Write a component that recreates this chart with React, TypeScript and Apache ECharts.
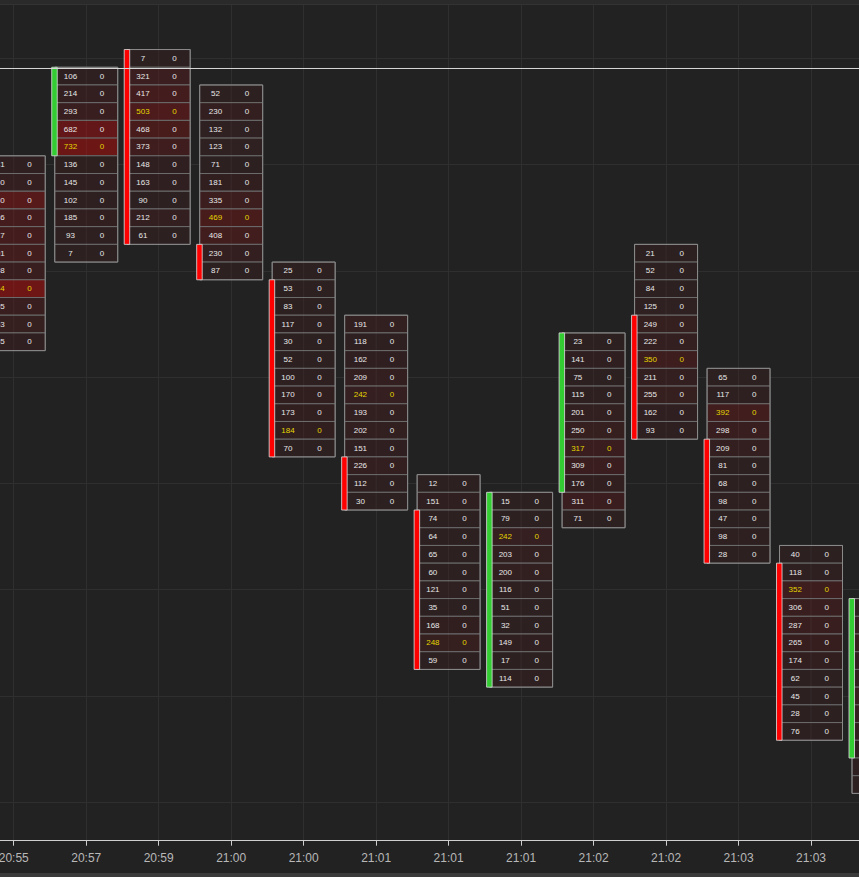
import React, { useEffect, useRef } from 'react';
import * as echarts from 'echarts';

// x axis tick labels (one per footprint column)
const TIME_LABELS = ['20:55', '20:57', '20:59', '21:00', '21:00', '21:01', '21:01', '21:01', '21:02', '21:02', '21:03', '21:03'];

// top price level (row) of each footprint column, one level per row
const COLUMN_TOP_LEVELS = [54, 59, 60, 58, 48, 45, 36, 35, 44, 49, 42, 32, 29];

// bid volume per row (top to bottom) of every column
const BID_0 = [141, 230, 580, 436, 417, 401, 298, 744, 305, 253, 165];
const BID_1 = [106, 214, 293, 682, 732, 136, 145, 102, 185, 93, 7];
const BID_2 = [7, 321, 417, 503, 468, 373, 148, 163, 90, 212, 61];
const BID_3 = [52, 230, 132, 123, 71, 181, 335, 469, 408, 230, 87];
const BID_4 = [25, 53, 83, 117, 30, 52, 100, 170, 173, 184, 70];
const BID_5 = [191, 118, 162, 209, 242, 193, 202, 151, 226, 112, 30];
const BID_6 = [12, 151, 74, 64, 65, 60, 121, 35, 168, 248, 59];
const BID_7 = [15, 79, 242, 203, 200, 116, 51, 32, 149, 17, 114];
const BID_8 = [23, 141, 75, 115, 201, 250, 317, 309, 176, 311, 71];
const BID_9 = [21, 52, 84, 125, 249, 222, 350, 211, 255, 162, 93];
const BID_10 = [65, 117, 392, 298, 209, 81, 68, 98, 47, 98, 28];
const BID_11 = [40, 118, 352, 306, 287, 265, 174, 62, 45, 28, 76];
const BID_12 = [130, 245, 262, 230, 198, 276, 240, 186, 154, 120, 85];
const BID_VOLUMES = [BID_0, BID_1, BID_2, BID_3, BID_4, BID_5, BID_6, BID_7, BID_8, BID_9, BID_10, BID_11, BID_12];

// ask volume per row
const ASK_0 = [0, 0, 0, 0, 0, 0, 0, 0, 0, 0, 0];
const ASK_1 = [0, 0, 0, 0, 0, 0, 0, 0, 0, 0, 0];
const ASK_2 = [0, 0, 0, 0, 0, 0, 0, 0, 0, 0, 0];
const ASK_3 = [0, 0, 0, 0, 0, 0, 0, 0, 0, 0, 0];
const ASK_4 = [0, 0, 0, 0, 0, 0, 0, 0, 0, 0, 0];
const ASK_5 = [0, 0, 0, 0, 0, 0, 0, 0, 0, 0, 0];
const ASK_6 = [0, 0, 0, 0, 0, 0, 0, 0, 0, 0, 0];
const ASK_7 = [0, 0, 0, 0, 0, 0, 0, 0, 0, 0, 0];
const ASK_8 = [0, 0, 0, 0, 0, 0, 0, 0, 0, 0, 0];
const ASK_9 = [0, 0, 0, 0, 0, 0, 0, 0, 0, 0, 0];
const ASK_10 = [0, 0, 0, 0, 0, 0, 0, 0, 0, 0, 0];
const ASK_11 = [0, 0, 0, 0, 0, 0, 0, 0, 0, 0, 0];
const ASK_12 = [0, 0, 0, 0, 0, 0, 0, 0, 0, 0, 0];
const ASK_VOLUMES = [ASK_0, ASK_1, ASK_2, ASK_3, ASK_4, ASK_5, ASK_6, ASK_7, ASK_8, ASK_9, ASK_10, ASK_11, ASK_12];

// candle body marker: direction (1 up / -1 down / 0 none), first and last row covered
const BODY_DIRECTION = [0, 1, -1, -1, -1, -1, -1, 1, 1, -1, -1, -1, 1];
const BODY_FIRST_ROW = [0, 0, 0, 9, 1, 8, 2, 0, 0, 4, 4, 1, 0];
const BODY_LAST_ROW = [0, 4, 10, 10, 10, 10, 10, 10, 8, 10, 10, 10, 8];

// last traded price line
const CURRENT_LEVEL = 59.43;

// visible window of the axes
const X_MIN = -0.1897;
const X_MAX = 11.662;
const Y_MIN = 15.83;
const Y_MAX = 63.015;
const X_TICKS = [0, 1, 2, 3, 4, 5, 6, 7, 8, 9, 10, 11];
const Y_GRID_LEVELS = [18, 24, 30, 36, 42, 48, 54, 60];

const BG = '#222222';
const GRID_COLOR = '#2f2f2f';
const FONT = '"Liberation Sans", Arial, sans-serif';

const GLOBAL_MAX = Math.max(...BID_VOLUMES.map((c) => Math.max(...c)));

function cellFill(v: number): string {
  const t = Math.pow(Math.min(v / GLOBAL_MAX, 1), 1.8);
  const lo = [44, 32, 33];
  const hi = [110, 22, 22];
  const c = lo.map((l, i) => Math.round(l + (hi[i] - l) * t));
  return `rgb(${c[0]},${c[1]},${c[2]})`;
}

const COL_FRACTION = 0.869;

export default function App() {
  const ref = useRef<HTMLDivElement>(null);

  useEffect(() => {
    if (!ref.current) return;
    const chart = echarts.init(ref.current, null, { renderer: 'svg' });

    const cellData: number[][] = [];
    BID_VOLUMES.forEach((col, ci) => {
      const mx = Math.max(...col);
      col.forEach((v, ri) => {
        cellData.push([ci, COLUMN_TOP_LEVELS[ci] - ri, v, ASK_VOLUMES[ci][ri], v === mx ? 1 : 0]);
      });
    });

    const frameData = BID_VOLUMES.map((col, ci) => [ci, COLUMN_TOP_LEVELS[ci], COLUMN_TOP_LEVELS[ci] - col.length + 1]);

    const bodyData: number[][] = [];
    BODY_DIRECTION.forEach((d, ci) => {
      if (d === 0) return;
      bodyData.push([ci, COLUMN_TOP_LEVELS[ci] - BODY_FIRST_ROW[ci], COLUMN_TOP_LEVELS[ci] - BODY_LAST_ROW[ci], d]);
    });

    const option: any = {
      animation: false,
      backgroundColor: BG,
      grid: { left: 0, right: 0, top: 5, bottom: 36.3, containLabel: false, outerBoundsMode: 'none' },
      xAxis: {
        type: 'value',
        min: X_MIN,
        max: X_MAX,
        axisLine: { show: true, lineStyle: { color: '#cfcfcf', width: 1 } },
        axisTick: { show: true, length: 5, customValues: X_TICKS, lineStyle: { color: '#cfcfcf', width: 1 } },
        axisLabel: {
          color: '#b8b8b8',
          fontSize: 12,
          fontFamily: FONT,
          margin: 11,
          customValues: X_TICKS,
          showMinLabel: true,
          showMaxLabel: true,
          formatter: (v: number) => TIME_LABELS[Math.round(v)] ?? '',
        },
        splitLine: { show: true, lineStyle: { color: GRID_COLOR, width: 1 } },
      },
      yAxis: {
        type: 'value',
        min: Y_MIN,
        max: Y_MAX,
        axisLine: { show: false },
        axisTick: { show: false, customValues: Y_GRID_LEVELS },
        axisLabel: { show: false, customValues: Y_GRID_LEVELS },
        splitLine: { show: true, lineStyle: { color: GRID_COLOR, width: 1 } },
      },
      graphic: [
        { type: 'rect', shape: { x: 0, y: 0, width: 859, height: 4.5 }, style: { fill: '#2a2a2a' }, z: 100 },
        { type: 'line', shape: { x1: 0, y1: 4.5, x2: 859, y2: 4.5 }, style: { stroke: '#333333', lineWidth: 1 }, z: 100 },
        { type: 'rect', shape: { x: 0, y: 873, width: 859, height: 4 }, style: { fill: '#3a3a3a' }, z: 100 },
      ],
      series: [
        {
          type: 'custom',
          name: 'cells',
          z: 2,
          clip: false,
          data: cellData,
          renderItem: (params: any, api: any) => {
            const x = api.value(0);
            const lvl = api.value(1);
            const bid = api.value(2);
            const ask = api.value(3);
            const isMax = api.value(4) === 1;
            const c = api.coord([x, lvl]);
            const colW = api.size([1, 0])[0];
            const rowH = api.size([0, 1])[1];
            const w = colW * COL_FRACTION;
            const left = c[0] - w / 2;
            const top = c[1] - rowH / 2;
            const txtColor = isMax ? '#e4d400' : '#e8e8e8';
            const viewW = api.getWidth();
            const children: any[] = [
              {
                type: 'rect',
                shape: { x: left, y: top, width: w, height: rowH },
                style: { fill: cellFill(bid), stroke: '#6c6c6c', lineWidth: 1 },
              },
              {
                type: 'line',
                shape: { x1: c[0], y1: top, x2: c[0], y2: top + rowH },
                style: { stroke: 'rgba(255,255,255,0.05)', lineWidth: 1 },
              },
            ];
            const bidX = left + w / 4;
            const askX = left + (3 * w) / 4;
            if (bidX - 10 < viewW) {
              children.push({
                type: 'text',
                style: {
                  text: String(bid),
                  x: bidX,
                  y: c[1],
                  align: 'center',
                  verticalAlign: 'middle',
                  fill: txtColor,
                  fontSize: 8,
                  fontFamily: FONT,
                },
              });
            }
            if (askX - 10 < viewW) {
              children.push({
                type: 'text',
                style: {
                  text: String(ask),
                  x: askX,
                  y: c[1],
                  align: 'center',
                  verticalAlign: 'middle',
                  fill: txtColor,
                  fontSize: 8,
                  fontFamily: FONT,
                },
              });
            }
            return { type: 'group', children };
          },
        },
        {
          type: 'custom',
          name: 'frames',
          z: 3,
          clip: false,
          data: frameData,
          renderItem: (params: any, api: any) => {
            const x = api.value(0);
            const cTop = api.coord([x, api.value(1)]);
            const cBot = api.coord([x, api.value(2)]);
            const colW = api.size([1, 0])[0];
            const rowH = api.size([0, 1])[1];
            const w = colW * COL_FRACTION;
            const top = cTop[1] - rowH / 2;
            const bottom = cBot[1] + rowH / 2;
            return {
              type: 'rect',
              shape: { x: cTop[0] - w / 2, y: top, width: w, height: bottom - top },
              style: { fill: 'none', stroke: '#8a8a8a', lineWidth: 1 },
            };
          },
        },
        {
          type: 'custom',
          name: 'bodies',
          z: 4,
          clip: false,
          data: bodyData,
          renderItem: (params: any, api: any) => {
            const x = api.value(0);
            const cTop = api.coord([x, api.value(1)]);
            const cBot = api.coord([x, api.value(2)]);
            const colW = api.size([1, 0])[0];
            const rowH = api.size([0, 1])[1];
            const w = colW * COL_FRACTION;
            const left = cTop[0] - w / 2;
            const top = cTop[1] - rowH / 2;
            const bottom = cBot[1] + rowH / 2;
            return {
              type: 'rect',
              shape: { x: left - 3, y: top, width: 5.5, height: bottom - top },
              style: {
                fill: api.value(3) > 0 ? '#33cc33' : '#ff0000',
                stroke: 'rgba(215,215,215,0.85)',
                lineWidth: 1,
              },
            };
          },
        },
        {
          type: 'line',
          name: 'last',
          z: 6,
          symbol: 'none',
          silent: true,
          data: [
            [X_MIN, CURRENT_LEVEL],
            [X_MAX, CURRENT_LEVEL],
          ],
          lineStyle: { color: '#d8d8d8', width: 1 },
        },
      ],
    };

    chart.setOption(option);
    return () => chart.dispose();
  }, []);

  return <div ref={ref} style={{ position: 'fixed', left: 0, top: 0, width: 859, height: 877 }} />;
}
